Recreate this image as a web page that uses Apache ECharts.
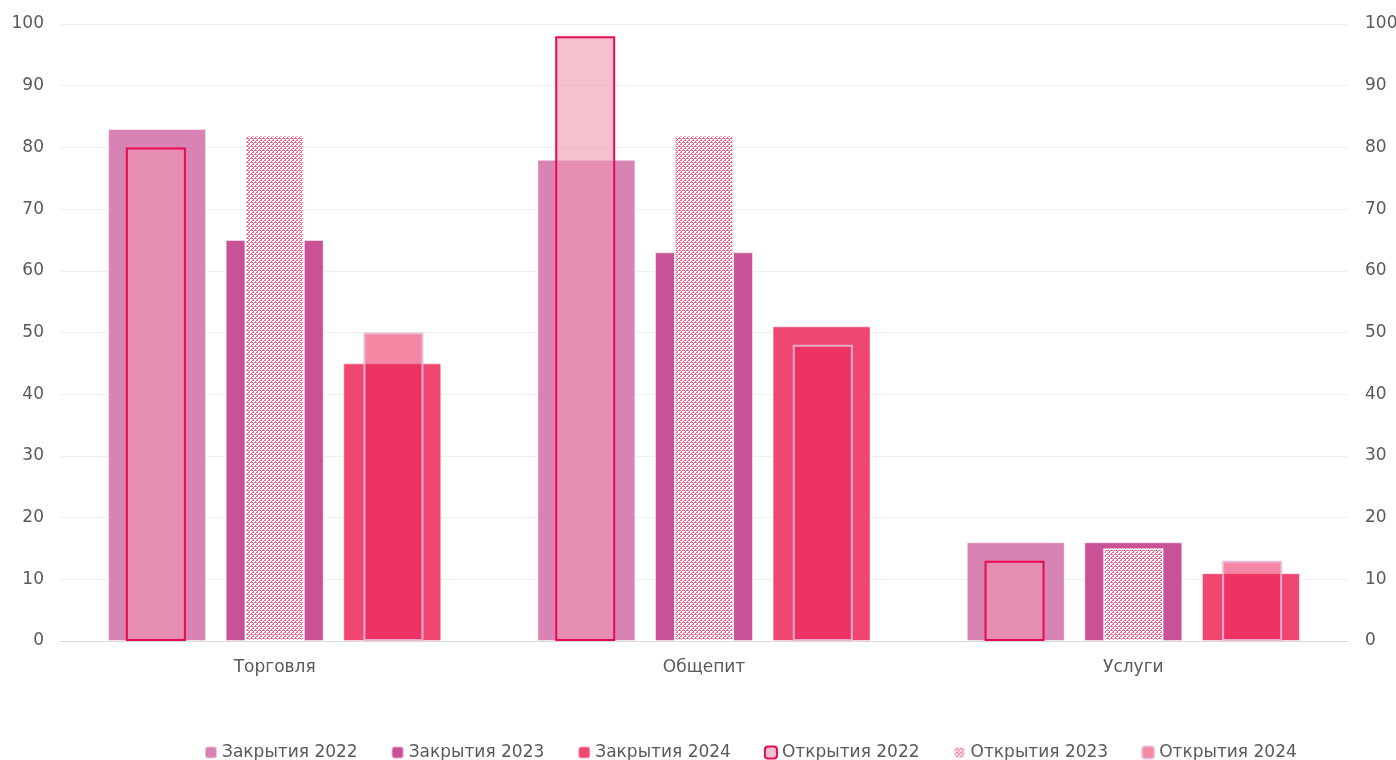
<!DOCTYPE html>
<html>
<head>
<meta charset="utf-8">
<script src="https://cdn.jsdelivr.net/npm/echarts@6/dist/echarts.min.js"></script>
<style>
  html, body { margin: 0; padding: 0; background: #fff; }
  #chart { width: 1396px; height: 760px; }
</style>
</head>
<body>
<div id="chart"></div>
<script>
const categories = ["Торговля", "Общепит", "Услуги"];
const closures2022 = [83, 78, 16];
const closures2023 = [65, 63, 16];
const closures2024 = [45, 51, 11];
const openings2022 = [80, 98, 13];
const openings2023 = [82, 82, 15];
const openings2024 = [50, 48, 13];

// small dotted fill for "Открытия 2023"
function dotPattern() {
  const c = document.createElement("canvas");
  c.width = 4; c.height = 4;
  const ctx = c.getContext("2d");
  ctx.fillStyle = "#fff";
  ctx.fillRect(0, 0, 4, 4);
  ctx.fillStyle = "#ec6289";
  [[0, 0], [1, 0], [3, 1], [2, 2], [3, 2], [1, 3], [0, 2]].forEach(([x, y]) => ctx.fillRect(x, y, 1, 1));
  return c;
}

const chart = echarts.init(document.getElementById("chart"));
const font = "'DejaVu Sans', sans-serif";
const txt = "#595959";

const axisLabel = { color: txt, fontSize: 17, fontFamily: font };

chart.setOption({
  animation: false,
  textStyle: { fontFamily: font },
  grid: { left: 60, right: 48, top: 24, bottom: 119, outerBoundsMode: "none", containLabel: false },
  legend: {
    top: 739,
    left: 199,
    itemWidth: 12,
    itemHeight: 12,
    itemGap: 33,
    textStyle: { color: txt, fontSize: 17, fontFamily: font },
    data: ["Закрытия 2022", "Закрытия 2023", "Закрытия 2024",
           "Открытия 2022", "Открытия 2023", "Открытия 2024"],
  },
  xAxis: [
    {
      type: "category",
      data: categories,
      axisLine: { lineStyle: { color: "#d9d9d9" } },
      axisTick: { show: false },
      axisLabel: { ...axisLabel, margin: 18 },
    },
    { type: "category", data: categories, show: false },
  ],
  yAxis: [
    {
      type: "value", min: 0, max: 100, interval: 10,
      axisLabel: { ...axisLabel, margin: 16 },
      splitLine: { lineStyle: { color: "#f0f0f0" } },
    },
    {
      type: "value", min: 0, max: 100, interval: 10, position: "right",
      axisLabel: { ...axisLabel, margin: 17 },
      splitLine: { show: false },
    },
  ],
  series: [
    {
      name: "Закрытия 2022", type: "bar", xAxisIndex: 0, data: closures2022,
      barWidth: 98, barGap: "20%",
      itemStyle: { color: "#d783b4", borderColor: "rgba(255,255,255,0.5)", borderWidth: 1 },
    },
    {
      name: "Закрытия 2023", type: "bar", xAxisIndex: 0, data: closures2023,
      barWidth: 98,
      itemStyle: { color: "#c95297", borderColor: "rgba(255,255,255,0.5)", borderWidth: 1 },
    },
    {
      name: "Закрытия 2024", type: "bar", xAxisIndex: 0, data: closures2024,
      barWidth: 98,
      itemStyle: { color: "#f04770", borderColor: "rgba(255,255,255,0.5)", borderWidth: 1 },
    },
    {
      name: "Открытия 2022", type: "bar", xAxisIndex: 1, data: openings2022,
      barWidth: 60, barGap: "98%", z: 3,
      itemStyle: { color: "rgba(240,150,175,0.6)", borderColor: "#ea0a50", borderWidth: 2 },
    },
    {
      name: "Открытия 2023", type: "bar", xAxisIndex: 1, data: openings2023,
      barWidth: 60, z: 3,
      itemStyle: { color: { image: dotPattern(), repeat: "repeat" }, borderColor: "#fff", borderWidth: 1.5 },
    },
    {
      name: "Открытия 2024", type: "bar", xAxisIndex: 1, data: openings2024,
      barWidth: 60, z: 3,
      itemStyle: { color: "rgba(237,35,90,0.55)", borderColor: "rgba(230,185,215,0.9)", borderWidth: 2 },
    },
  ],
});
</script>
</body>
</html>
